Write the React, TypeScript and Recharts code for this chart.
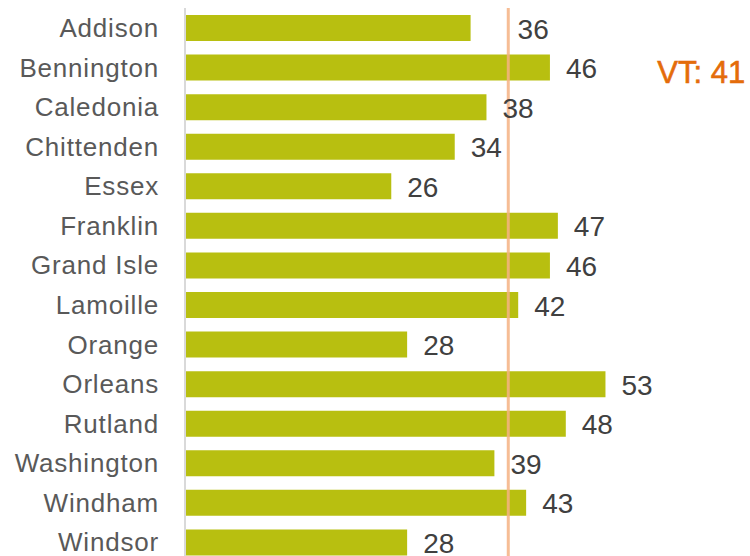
import { Bar, BarChart, LabelList, ReferenceLine, XAxis, YAxis } from 'recharts';

// county rates
const counties = [
  'Addison', 'Bennington', 'Caledonia', 'Chittenden', 'Essex', 'Franklin', 'Grand Isle',
  'Lamoille', 'Orange', 'Orleans', 'Rutland', 'Washington', 'Windham', 'Windsor',
];
const rates = [36, 46, 38, 34, 26, 47, 46, 42, 28, 53, 48, 39, 43, 28];
const stateRate = 41;
const stateLabel = 'VT: 41';

const data = counties.map((name, i) => ({ name, value: rates[i] }));

const BAR = '#b8bf10';
const LINE = '#f4b183';
const ORANGE = '#e46c0a';

// Addison's label sits on the VT line, so it gets pushed past it
const ValueLabel = (props: any) => {
  const { x, y, width, height, value, index } = props;
  const push = index === 0 ? 31 : 0;
  return (
    <text
      x={x + width + 16 + push}
      y={y + height / 2 + 1}
      dominantBaseline="central"
      fill="#404040"
      fontSize={28}
    >
      {value}
    </text>
  );
};

const VtLine = (props: any) => {
  const { x1, y1, x2, y2 } = props;
  return <line x1={x1 - 2} y1={y1 + 7} x2={x2 - 2} y2={y2} stroke={LINE} strokeWidth={3} strokeOpacity={0.85} />;
};

export default function App() {
  return (
    <div
      style={{
        position: 'absolute', left: 0, top: 0, width: 750, height: 556,
        overflow: 'hidden', background: '#fff', fontFamily: '"Liberation Sans", Arial, sans-serif',
      }}
    >
      <BarChart
        width={750}
        height={562}
        data={data}
        layout="vertical"
        margin={{ top: 8, right: 89, left: 0, bottom: 0 }}
        barSize={26}
      >
        <XAxis type="number" domain={[0, 60]} hide />
        <YAxis
          type="category"
          dataKey="name"
          width={185}
          interval={0}
          tickLine={false}
          tickSize={0}
          tickMargin={26}
          axisLine={{ stroke: '#d9d9d9', strokeWidth: 2 }}
          tick={{ fill: '#595959', fontSize: 26, letterSpacing: 0.8 }}
        />
        <Bar dataKey="value" fill={BAR} isAnimationActive={false}>
          <LabelList dataKey="value" content={ValueLabel} />
        </Bar>
        <ReferenceLine
          x={stateRate}
          shape={VtLine}
          label={(p: any) => (
            <text
              x={p.viewBox.x + 147}
              y={p.viewBox.y + 75}
              fill={ORANGE}
              fontSize={31}
              stroke={ORANGE}
              strokeWidth={0.6}
            >
              {stateLabel}
            </text>
          )}
        />
      </BarChart>
    </div>
  );
}
